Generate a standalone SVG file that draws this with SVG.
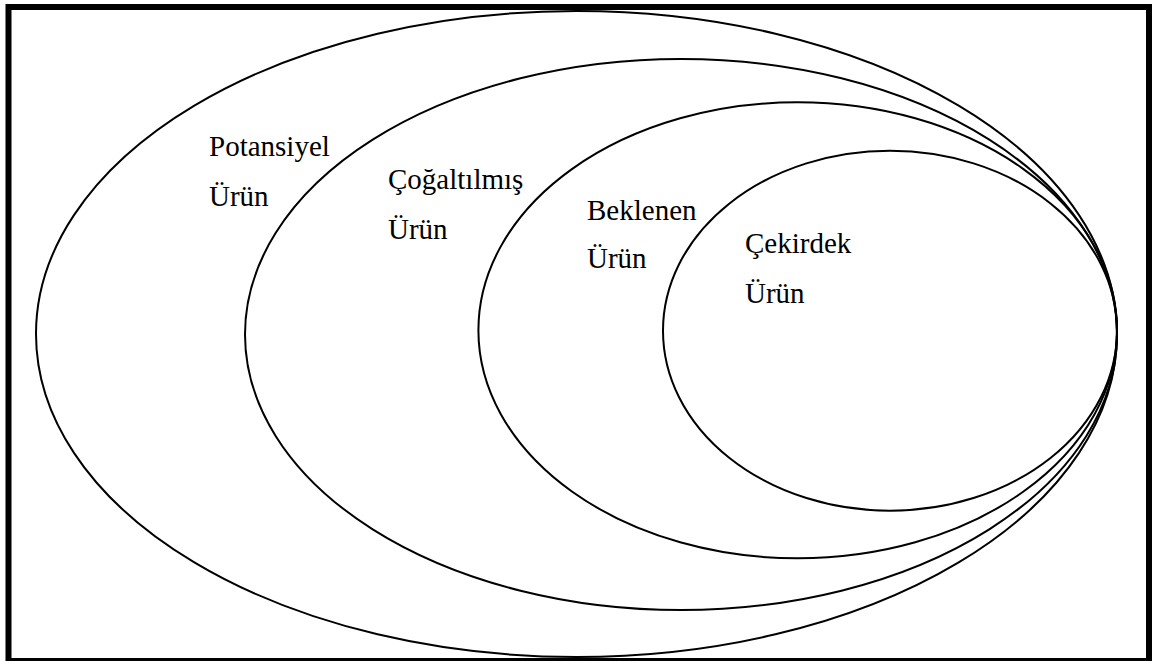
<svg xmlns="http://www.w3.org/2000/svg" width="1164" height="661" viewBox="0 0 1164 661">
<style>
.ring{fill:none;stroke:#000;stroke-width:2}
.lbl{font-family:"Liberation Serif","Times New Roman",serif;font-size:29px;fill:#000}
</style>
<rect x="0" y="0" width="1164" height="661" fill="#fff"/>
<rect x="8.5" y="7" width="1140.5" height="654" fill="none" stroke="#000" stroke-width="6"/>
<g id="potansiyel">
<ellipse class="ring" cx="576.5" cy="334" rx="540.5" ry="323"/>
<text class="lbl" x="209" y="156">Potansiyel</text>
<text class="lbl" x="209" y="206">Ürün</text>
</g>
<g id="cogaltilmis">
<ellipse class="ring" cx="681" cy="334.5" rx="436" ry="275.5"/>
<text class="lbl" x="388" y="189">Çoğaltılmış</text>
<text class="lbl" x="388" y="239">Ürün</text>
</g>
<g id="beklenen">
<ellipse class="ring" cx="797.7" cy="330.3" rx="319.3" ry="228"/>
<text class="lbl" x="587" y="220">Beklenen</text>
<text class="lbl" x="587" y="268">Ürün</text>
</g>
<g id="cekirdek">
<ellipse class="ring" cx="890" cy="330.7" rx="227" ry="180"/>
<text class="lbl" x="745" y="253">Çekirdek</text>
<text class="lbl" x="745" y="303">Ürün</text>
</g>
<g id="connectors"></g>
</svg>
